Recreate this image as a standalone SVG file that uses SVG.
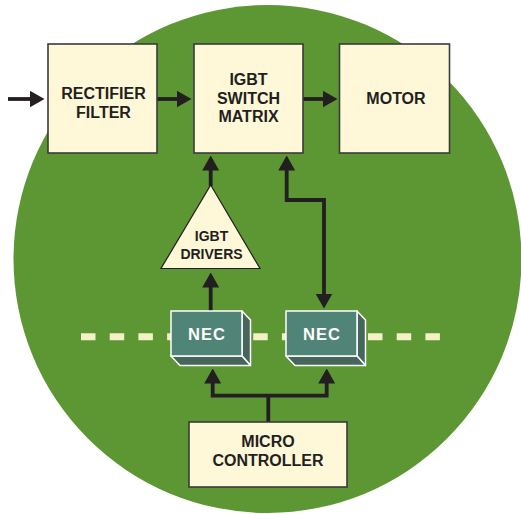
<svg xmlns="http://www.w3.org/2000/svg" width="521" height="514" viewBox="0 0 521 514">
<defs>
<style>
.box{fill:#FEF8D8;stroke:#3A3A3A;stroke-width:1.6}
.lbl{font-family:"Liberation Sans",Arial,sans-serif;font-weight:bold;font-size:16px;fill:#231F20;text-anchor:middle}
.nec{font-family:"Liberation Sans",Arial,sans-serif;font-weight:bold;font-size:16.5px;fill:#FFFFFF;text-anchor:middle;letter-spacing:1px}
.front{fill:#4F8476;stroke:#FFFFFF;stroke-width:1.5}
.side{fill:#46655B;stroke:#FFFFFF;stroke-width:1.5;stroke-linejoin:round}
.wire{fill:none;stroke:#231F20;stroke-width:3.8}
</style>
<marker id="ah" viewBox="0 0 15 17" refX="0.5" refY="8.5" markerWidth="15" markerHeight="17" markerUnits="userSpaceOnUse" orient="auto-start-reverse">
<path d="M0,0 L15,8.5 L0,17 Z" fill="#231F20"/>
</marker>
</defs>
<circle cx="267.5" cy="259" r="254" fill="#5C9733"/>
<line x1="81" y1="336.7" x2="440" y2="336.7" stroke="#F4F1C6" stroke-width="7" stroke-dasharray="14.5 14.2"/>
<g id="connectors">
<line class="wire" x1="8" y1="99" x2="30" y2="99" marker-end="url(#ah)"/>
<line class="wire" x1="157" y1="99" x2="177" y2="99" marker-end="url(#ah)"/>
<line class="wire" x1="303" y1="99" x2="323" y2="99" marker-end="url(#ah)"/>
<line class="wire" x1="210.7" y1="186" x2="210.7" y2="170" marker-end="url(#ah)"/>
<path class="wire" d="M286.7,170 V200 H324 V294" marker-start="url(#ah)" marker-end="url(#ah)"/>
<line class="wire" x1="210.7" y1="311" x2="210.7" y2="287" marker-end="url(#ah)"/>
<path class="wire" d="M212.7,383 V395.7 H326.7 V383" marker-start="url(#ah)" marker-end="url(#ah)"/>
<line class="wire" x1="268.3" y1="422" x2="268.3" y2="395.7"/>
</g>
<g id="rectifier">
<rect class="box" x="48" y="44" width="109" height="109"/>
<text class="lbl" x="103.5" y="99">RECTIFIER</text>
<text class="lbl" x="103.5" y="117.5">FILTER</text>
</g>
<g id="igbt-matrix">
<rect class="box" x="194" y="44" width="109" height="109"/>
<text class="lbl" x="248.5" y="85">IGBT</text>
<text class="lbl" x="248.5" y="103.5">SWITCH</text>
<text class="lbl" x="248.5" y="122">MATRIX</text>
</g>
<g id="motor">
<rect class="box" x="339.5" y="44" width="110" height="109"/>
<text class="lbl" x="396" y="104">MOTOR</text>
</g>
<g id="igbt-drivers">
<polygon points="210.7,185 260,268.5 161,268.5" fill="#FEF8D8" stroke="#231F20" stroke-width="1.2" stroke-linejoin="miter"/>
<text class="lbl" x="211.5" y="240.5" style="font-size:14px">IGBT</text>
<text class="lbl" x="211.5" y="259" style="font-size:14px">DRIVERS</text>
</g>
<g id="nec1">
<polygon class="side" points="242,311 250.5,320 250.5,365.5 242,356"/>
<polygon class="side" points="171,356 242,356 250.5,365.5 180,365.5"/>
<rect class="front" x="171" y="311" width="71" height="45"/>
<text class="nec" x="207" y="339.5">NEC</text>
</g>
<g id="nec2">
<polygon class="side" points="357,311 365.5,320 365.5,365.5 357,356"/>
<polygon class="side" points="286,356 357,356 365.5,365.5 295,365.5"/>
<rect class="front" x="286" y="311" width="71" height="45"/>
<text class="nec" x="322" y="339.5">NEC</text>
</g>
<g id="micro">
<rect class="box" x="189" y="422" width="158" height="65"/>
<text class="lbl" x="268" y="447">MICRO</text>
<text class="lbl" x="268" y="466">CONTROLLER</text>
</g>
</svg>
